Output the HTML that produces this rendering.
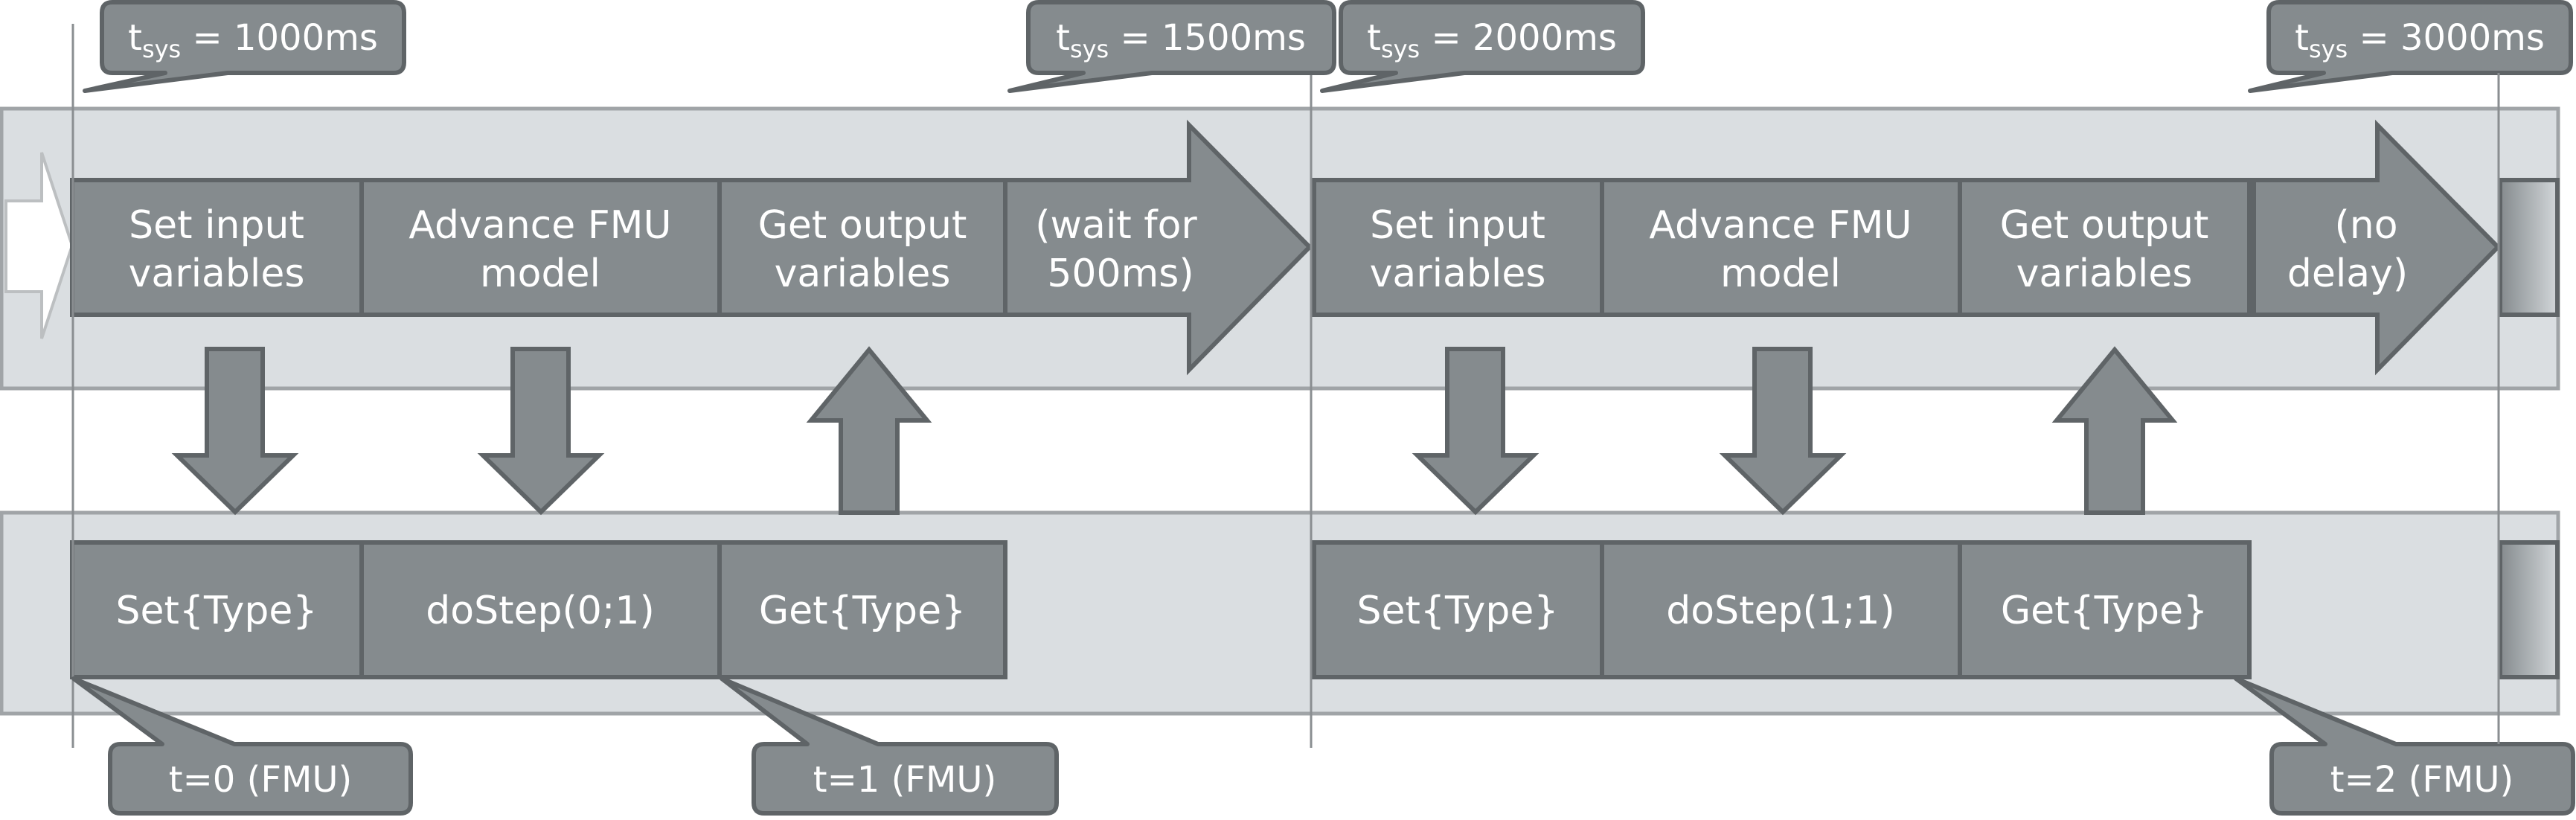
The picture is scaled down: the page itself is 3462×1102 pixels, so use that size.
<!DOCTYPE html>
<html><head><meta charset="utf-8"><style>
html,body{margin:0;padding:0;background:#fff;}
svg{display:block;}
text{font-family:"DejaVu Sans","Liberation Sans",sans-serif;fill:#fff;}
</style></head><body>
<svg width="3462" height="1102" viewBox="0 0 3462 1102" xmlns="http://www.w3.org/2000/svg">
<defs>
<linearGradient id="g" x1="0" x2="1" y1="0" y2="0">
<stop offset="0" stop-color="#858b8e"/><stop offset="1" stop-color="#d2d6d9"/>
</linearGradient>
</defs>
<rect x="2" y="146" width="3436" height="376" fill="#dadee1" stroke="#a0a4a7" stroke-width="5"/>
<rect x="2" y="689" width="3436" height="270" fill="#dadee1" stroke="#a0a4a7" stroke-width="5"/>
<polygon points="8,270 56,270 56,205 97,330 56,455 56,392 8,392" fill="#fff" stroke="#bcbfc1" stroke-width="4"/>

<g fill="#858b8e" stroke="#5f6467" stroke-width="6">
<rect x="97" y="242" width="389" height="181"/>
<rect x="486" y="242" width="481" height="181"/>
<rect x="967" y="242" width="384" height="181"/>
<polygon points="1351,242 1598,242 1598,168 1760,332 1598,497 1598,423 1351,423"/>
<rect x="1766" y="242" width="387" height="181"/>
<rect x="2153" y="242" width="481" height="181"/>
<rect x="2634" y="242" width="389" height="181"/>
<polygon points="3029,242 3195,242 3195,168 3357,332 3195,497 3195,423 3029,423"/>
<rect x="97" y="729" width="389" height="181"/>
<rect x="486" y="729" width="481" height="181"/>
<rect x="967" y="729" width="384" height="181"/>
<rect x="1766" y="729" width="387" height="181"/>
<rect x="2153" y="729" width="481" height="181"/>
<rect x="2634" y="729" width="389" height="181"/>
<polygon points="278,469 353,469 353,612 394,612 316,688 238,612 278,612"/>
<polygon points="689,469 764,469 764,612 805,612 727,688 649,612 689,612"/>
<polygon points="1945,469 2020,469 2020,612 2061,612 1983,688 1905,612 1945,612"/>
<polygon points="2358,469 2433,469 2433,612 2474,612 2396,688 2318,612 2358,612"/>
<polygon points="1130,689 1206,689 1206,565 1246,565 1168,470 1090,565 1130,565"/>
<polygon points="2804,689 2880,689 2880,565 2920,565 2842,470 2764,565 2804,565"/>
</g>
<rect x="3360" y="242" width="77" height="181" fill="url(#g)" stroke="#5f6467" stroke-width="6"/>
<rect x="3360" y="729" width="77" height="181" fill="url(#g)" stroke="#5f6467" stroke-width="6"/>

<g stroke="#8a8e91" stroke-width="3">
<line x1="98" y1="32" x2="98" y2="1005"/>
<line x1="1762" y1="32" x2="1762" y2="1005"/>
<line x1="3358" y1="32" x2="3358" y2="1005"/>
</g>

<g fill="#858b8e" stroke="#5f6467" stroke-width="6" stroke-linejoin="round">
<path d="M156,3 H529 Q543,3 543,17 V84 Q543,98 529,98 H306 L114,122 L222,98 H151 Q137,98 137,84 V17 Q137,3 151,3 Z"/>
<path d="M1396,3 H1779 Q1793,3 1793,17 V84 Q1793,98 1779,98 H1548 L1357,122 L1456,98 H1396 Q1382,98 1382,84 V17 Q1382,3 1396,3 Z"/>
<path d="M1816,3 H2194 Q2208,3 2208,17 V84 Q2208,98 2194,98 H1968 L1777,122 L1876,98 H1816 Q1802,98 1802,84 V17 Q1802,3 1816,3 Z"/>
<path d="M3063,3 H3441 Q3455,3 3455,17 V84 Q3455,98 3441,98 H3215 L3024,122 L3123,98 H3063 Q3049,98 3049,84 V17 Q3049,3 3063,3 Z"/>
<path d="M162,1000 H218 L99,912 L315,1000 H538 Q552,1000 552,1014 V1079 Q552,1093 538,1093 H162 Q148,1093 148,1079 V1014 Q148,1000 162,1000 Z"/>
<path d="M1027,1000 H1085 L970,912 L1180,1000 H1406 Q1420,1000 1420,1014 V1079 Q1420,1093 1406,1093 H1027 Q1013,1093 1013,1079 V1014 Q1013,1000 1027,1000 Z"/>
<path d="M3067,1000 H3125 L3005,912 L3220,1000 H3444 Q3458,1000 3458,1014 V1079 Q3458,1093 3444,1093 H3067 Q3053,1093 3053,1079 V1014 Q3053,1000 3067,1000 Z"/>
</g>
<line x1="3358" y1="98" x2="3358" y2="140" stroke="#8a8e91" stroke-width="3"/>
<line x1="3358" y1="960" x2="3358" y2="1000" stroke="#8a8e91" stroke-width="3"/>

<g font-size="48">
<text x="340" y="67" text-anchor="middle">t<tspan font-size="32" dy="10">sys</tspan><tspan dy="-10"> = 1000ms</tspan></text>
<text x="1587" y="67" text-anchor="middle">t<tspan font-size="32" dy="10">sys</tspan><tspan dy="-10"> = 1500ms</tspan></text>
<text x="2005" y="67" text-anchor="middle">t<tspan font-size="32" dy="10">sys</tspan><tspan dy="-10"> = 2000ms</tspan></text>
<text x="3252" y="67" text-anchor="middle">t<tspan font-size="32" dy="10">sys</tspan><tspan dy="-10"> = 3000ms</tspan></text>
<text x="350" y="1064" text-anchor="middle">t=0 (FMU)</text>
<text x="1216" y="1064" text-anchor="middle">t=1 (FMU)</text>
<text x="3255" y="1064" text-anchor="middle">t=2 (FMU)</text>
</g>

<g font-size="52" text-anchor="middle">
<text x="291" y="320">Set input</text><text x="291" y="385">variables</text>
<text x="726" y="320">Advance FMU</text><text x="726" y="385">model</text>
<text x="1159" y="320">Get output</text><text x="1159" y="385">variables</text>
<text x="1500" y="320">(wait for</text><text x="1506" y="385">500ms)</text>
<text x="1959" y="320">Set input</text><text x="1959" y="385">variables</text>
<text x="2393" y="320">Advance FMU</text><text x="2393" y="385">model</text>
<text x="2828" y="320">Get output</text><text x="2828" y="385">variables</text>
<text x="3180" y="320">(no</text><text x="3155" y="385">delay)</text>
<text x="291" y="838">Set{Type}</text>
<text x="726" y="838">doStep(0;1)</text>
<text x="1159" y="838">Get{Type}</text>
<text x="1959" y="838">Set{Type}</text>
<text x="2393" y="838">doStep(1;1)</text>
<text x="2828" y="838">Get{Type}</text>
</g>
</svg>
</body></html>
